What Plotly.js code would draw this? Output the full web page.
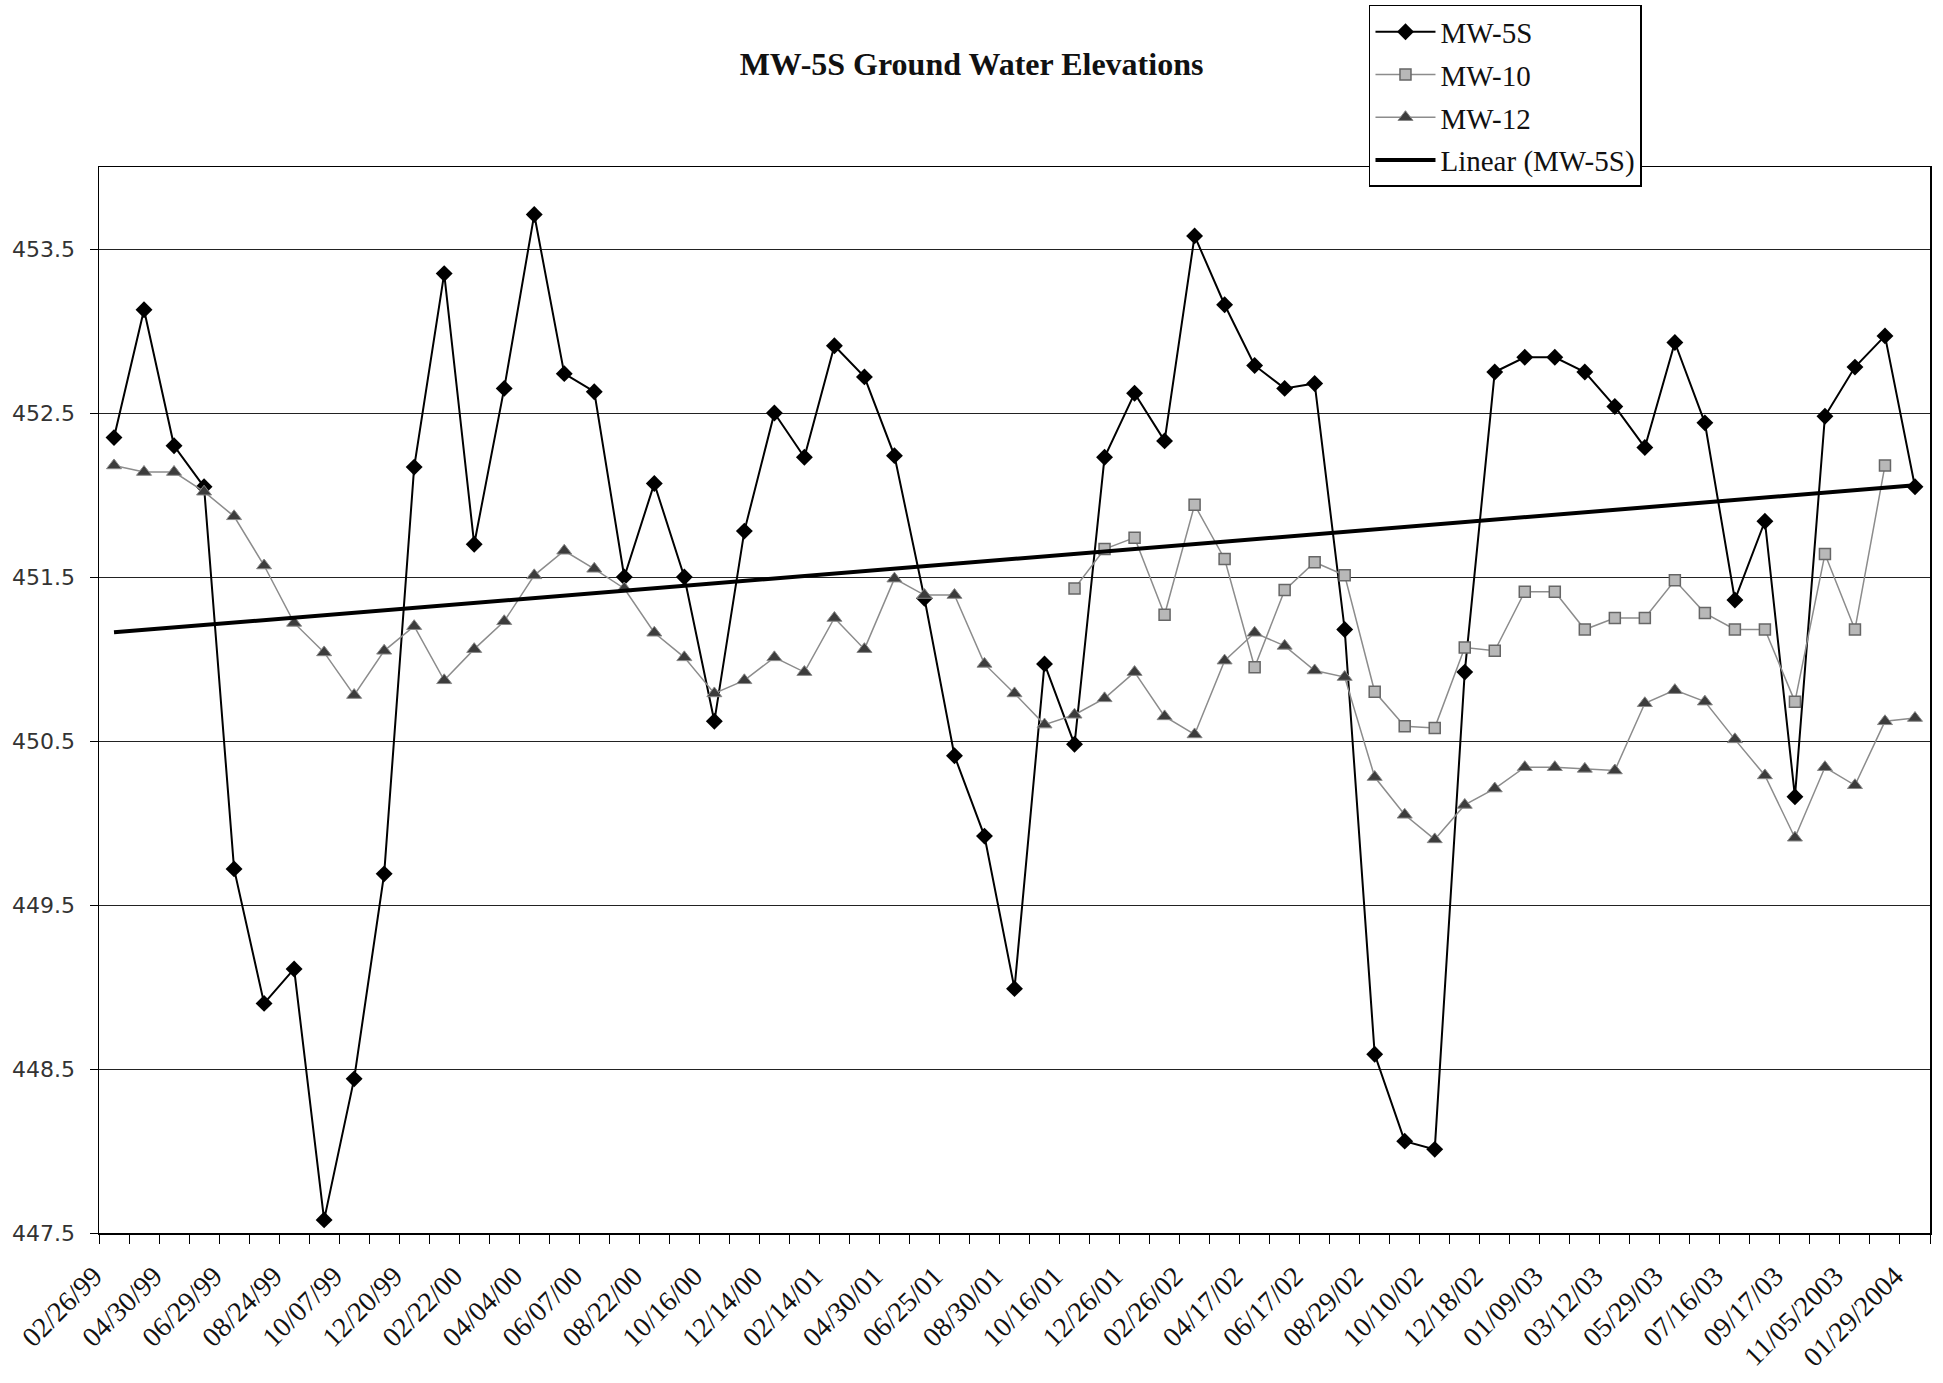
<!DOCTYPE html>
<html>
<head>
<meta charset="utf-8">
<script src="https://cdn.plot.ly/plotly-3.0.1.min.js"></script>
<style>
html,body{margin:0;padding:0;background:#fff;}
#chart{width:1943px;height:1383px;}
</style>
</head>
<body>
<div id="chart"></div>
<script>
// Tick labels (shown on every second sampling event)
const tickLabels = ["02/26/99","04/30/99","06/29/99","08/24/99","10/07/99","12/20/99",
  "02/22/00","04/04/00","06/07/00","08/22/00","10/16/00","12/14/00","02/14/01",
  "04/30/01","06/25/01","08/30/01","10/16/01","12/26/01","02/26/02","04/17/02",
  "06/17/02","08/29/02","10/10/02","12/18/02","01/09/03","03/12/03","05/29/03",
  "07/16/03","09/17/03","11/05/2003","01/29/2004"];

// Ground water elevations per sampling event (61 events)
const mw5s = [452.35,453.13,452.30,452.05,449.72,448.90,449.11,447.58,448.44,449.69,
  452.17,453.35,451.70,452.65,453.71,452.74,452.63,451.50,452.07,451.50,
  450.62,451.78,452.50,452.23,452.91,452.72,452.24,451.37,450.41,449.92,
  448.99,450.97,450.48,452.23,452.62,452.33,453.58,453.16,452.79,452.65,
  452.68,451.18,448.59,448.06,448.01,450.92,452.75,452.84,452.84,452.75,
  452.54,452.29,452.93,452.44,451.36,451.84,450.16,452.48,452.78,452.97,
  452.05];

const mw10 = [null,null,null,null,null,null,null,null,null,null,
  null,null,null,null,null,null,null,null,null,null,
  null,null,null,null,null,null,null,null,null,null,
  null,null,451.43,451.67,451.74,451.27,451.94,451.61,450.95,451.42,
  451.59,451.51,450.80,450.59,450.58,451.07,451.05,451.41,451.41,451.18,
  451.25,451.25,451.48,451.28,451.18,451.18,450.74,451.64,451.18,452.18,
  null];

const mw12 = [452.18,452.14,452.14,452.02,451.87,451.57,451.22,451.04,450.78,451.05,
  451.20,450.87,451.06,451.23,451.51,451.66,451.55,451.43,451.16,451.01,
  450.79,450.87,451.01,450.92,451.25,451.06,451.49,451.39,451.39,450.97,
  450.79,450.60,450.66,450.76,450.92,450.65,450.54,450.99,451.16,451.08,
  450.93,450.89,450.28,450.05,449.90,450.11,450.21,450.34,450.34,450.33,
  450.32,450.73,450.81,450.74,450.51,450.29,449.91,450.34,450.23,450.62,
  450.64];

// sampling event index
const idx = mw5s.map((_, i) => i);
const tickVals = tickLabels.map((_, i) => i * 2);

// Linear least-squares trendline of MW-5S (as Excel's "Linear (MW-5S)")
const n = mw5s.length;
const mx = idx.reduce((a, b) => a + b, 0) / n;
const my = mw5s.reduce((a, b) => a + b, 0) / n;
let sxy = 0, sxx = 0;
for (let i = 0; i < n; i++) { sxy += (idx[i] - mx) * (mw5s[i] - my); sxx += (idx[i] - mx) ** 2; }
const slope = sxy / sxx;
const intercept = my - slope * mx;
const trend = idx.map(i => intercept + slope * i);

const serif = 'Liberation Serif, Times New Roman, serif';

const traces = [
  {x: idx, y: mw5s, name: 'MW-5S', mode: 'lines+markers', legendgroup: 'a',
   line: {color: '#000', width: 2},
   marker: {symbol: 'diamond', size: 13, color: '#000'}},
  {x: idx, y: mw10, name: 'MW-10', mode: 'lines+markers', legendgroup: 'b',
   connectgaps: false,
   line: {color: '#8c8c8c', width: 1.5},
   marker: {symbol: 'square', size: 11, color: '#b8b8b8', line: {color: '#666', width: 1.5}}},
  {x: idx, y: mw12, name: 'MW-12', mode: 'lines+markers', legendgroup: 'c',
   line: {color: '#8c8c8c', width: 1.5},
   marker: {symbol: 'triangle-up', size: 13, color: '#3c3c3c', line: {color: '#888', width: 1}}},
  {x: idx, y: trend, name: 'Linear (MW-5S)', mode: 'lines', legendgroup: 'd',
   line: {color: '#000', width: 4}, hoverinfo: 'skip'}
];

const layout = {
  width: 1943, height: 1383,
  paper_bgcolor: '#fff', plot_bgcolor: '#fff',
  margin: {l: 99, r: 13, t: 167, b: 150, autoexpand: false},
  title: {text: '<b>MW-5S Ground Water Elevations</b>',
    font: {family: serif, size: 32, color: '#111'},
    x: 0.5, xref: 'container', xanchor: 'center',
    y: 0.954, yref: 'container', yanchor: 'middle'},
  showlegend: true,
  legend: {x: 0.6936, y: 1.152, xanchor: 'left', yanchor: 'top',
    bgcolor: '#fff', bordercolor: '#000', borderwidth: 1.5,
    font: {family: serif, size: 29, color: '#111'},
    itemwidth: 60, traceorder: 'grouped', tracegroupgap: 2},
  xaxis: {range: [-0.5, 60.5], tickmode: 'array', tickvals: tickVals, ticktext: tickLabels,
    tickangle: -45, ticks: '', showgrid: false, zeroline: false,
    ticklabelshift: -20, ticklabelstandoff: 14,
    showline: true, linecolor: '#000', linewidth: 1.5, mirror: true,
    tickfont: {family: serif, size: 28, color: '#111'},
    minor: {tickmode: 'linear', tick0: -0.5, dtick: 1, ticks: 'outside', ticklen: 9,
      tickcolor: '#000', tickwidth: 1, showgrid: false}},
  yaxis: {range: [447.5, 454], tickmode: 'linear', tick0: 447.5, dtick: 1, tickformat: '.1f',
    ticks: 'outside', ticklen: 8, tickcolor: '#000', ticklabelstandoff: 10,
    showgrid: true, gridcolor: '#222', gridwidth: 1, zeroline: false,
    showline: true, linecolor: '#000', linewidth: 1.5, mirror: true,
    tickfont: {family: 'DejaVu Sans, Verdana, sans-serif', size: 22, color: '#333'}}
};

Plotly.newPlot('chart', traces, layout, {displayModeBar: false, staticPlot: true});
</script>
</body>
</html>
